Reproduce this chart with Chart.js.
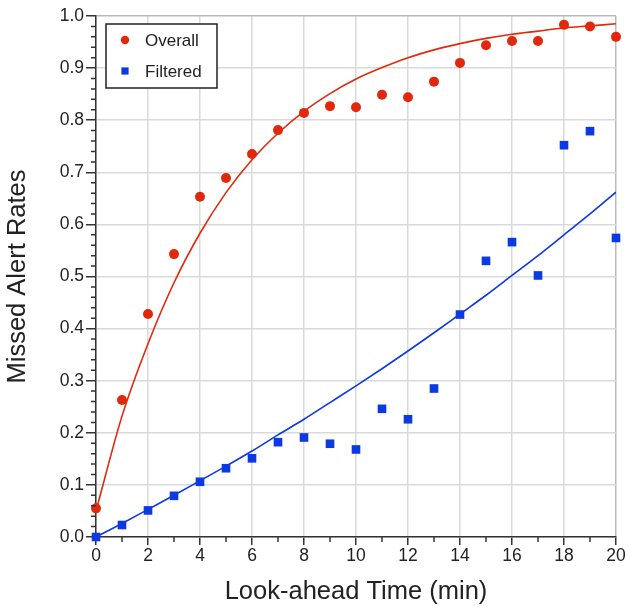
<!DOCTYPE html>
<html>
<head>
<meta charset="utf-8">
<script src="https://cdn.jsdelivr.net/npm/chart.js@4/dist/chart.umd.min.js"></script>
<style>
  html, body { margin: 0; padding: 0; background: #fff; }
  #wrap { width: 628px; height: 607px; }
</style>
</head>
<body>
<div id="wrap"><canvas id="c" width="628" height="607"></canvas></div>
<script>
// ---- data ----
const lookAhead = [0,1,2,3,4,5,6,7,8,9,10,11,12,13,14,15,16,17,18,19,20];
const overallRates = [0.055,0.263,0.428,0.543,0.653,0.689,0.735,0.781,0.814,0.827,0.825,0.849,0.844,0.874,0.910,0.944,0.952,0.952,0.983,0.980,0.960];
const filteredRates = [0.000,0.023,0.051,0.079,0.106,0.132,0.151,0.182,0.191,0.179,0.168,0.246,0.226,0.285,0.427,0.530,0.566,0.502,0.752,0.779,0.574];
const overallFit = [0.050,0.232,0.371,0.488,0.583,0.661,0.724,0.775,0.817,0.851,0.879,0.901,0.920,0.935,0.947,0.957,0.965,0.971,0.977,0.981,0.985];
const filteredFit = [0.000,0.026,0.053,0.080,0.108,0.136,0.165,0.196,0.226,0.258,0.290,0.323,0.357,0.392,0.428,0.464,0.502,0.540,0.580,0.620,0.662];
const seriesNames = ['Overall', 'Filtered'];
const xTitle = 'Look-ahead Time (min)';
const yTitle = 'Missed Alert Rates';

const RED = '#e2280c';
const BLUE = '#0b3ae2';
const FONT = "'Liberation Sans', Arial, Helvetica, sans-serif";
const pts = (ys) => lookAhead.map((x, i) => ({x: x, y: ys[i]}));

const extras = {
  id: 'extras',
  afterDatasetsDraw(chart) {
    const ctx = chart.ctx;
    const xs = chart.scales.x, ys = chart.scales.y;
    ctx.save();
    ctx.strokeStyle = '#333';
    ctx.lineWidth = 1.5;
    ctx.beginPath();
    for (let v = 1; v < 20; v += 2) {
      const px = xs.getPixelForValue(v);
      ctx.moveTo(px, xs.top);
      ctx.lineTo(px, xs.top + 5);
    }
    for (let k = 1; k < 50; k++) {
      if (k % 5 === 0) continue;
      const py = ys.getPixelForValue(k * 0.02);
      ctx.moveTo(ys.right, py);
      ctx.lineTo(ys.right - 5, py);
    }
    ctx.stroke();
    ctx.restore();
  },
  afterDraw(chart) {
    // legend (drawn from dataset labels / colours)
    const ctx = chart.ctx;
    const ca = chart.chartArea;
    const l = ca.left + 10, t = ca.top + 8, w = 111, h = 64;
    ctx.save();
    ctx.fillStyle = '#fff';
    ctx.fillRect(l, t, w, h);
    ctx.strokeStyle = '#222';
    ctx.lineWidth = 1.5;
    ctx.strokeRect(l, t, w, h);
    ctx.font = '17px ' + FONT;
    ctx.textBaseline = 'middle';
    ctx.textAlign = 'left';
    [0, 1].forEach((i) => {
      const ds = chart.data.datasets[i];
      const cy = t + 16 + i * 31;
      const cx = l + 19;
      ctx.fillStyle = ds.backgroundColor;
      if (ds.pointStyle === 'rect') {
        ctx.fillRect(cx - 3.6, cy - 3.6, 7.2, 7.2);
      } else {
        ctx.beginPath();
        ctx.arc(cx, cy, 4.2, 0, Math.PI * 2);
        ctx.fill();
      }
      ctx.fillStyle = '#222';
      ctx.fillText(ds.label, l + 39, cy + 1);
    });
    ctx.restore();
  }
};

new Chart(document.getElementById('c'), {
  type: 'scatter',
  data: {
    datasets: [
      { label: seriesNames[0], data: pts(overallRates), showLine: false,
        pointStyle: 'circle', pointRadius: 5, pointHoverRadius: 5,
        backgroundColor: RED, borderColor: RED, borderWidth: 0, clip: false },
      { label: seriesNames[1], data: pts(filteredRates), showLine: false,
        pointStyle: 'rect', pointRadius: 6.1, pointHoverRadius: 6.1,
        backgroundColor: BLUE, borderColor: BLUE, borderWidth: 0, clip: false },
      { label: 'fit1', data: pts(overallFit), showLine: true, pointRadius: 0,
        borderColor: RED, borderWidth: 1.6, cubicInterpolationMode: 'monotone', fill: false },
      { label: 'fit2', data: pts(filteredFit), showLine: true, pointRadius: 0,
        borderColor: BLUE, borderWidth: 1.6, cubicInterpolationMode: 'monotone', fill: false }
    ]
  },
  options: {
    responsive: false,
    animation: false,
    events: [],
    layout: { padding: { left: 0, top: 16, right: 12, bottom: 0 } },
    plugins: {
      tooltip: { enabled: false },
      legend: { display: false }
    },
    scales: {
      x: {
        type: 'linear', min: 0, max: 20,
        afterFit: (s) => { s.height = 70; },
        ticks: { stepSize: 2, color: '#222', padding: 1, maxRotation: 0,
                 font: { family: FONT, size: 17.5 } },
        grid: { color: (c) => c.tick && c.tick.value === 20 ? '#b9b9b9' : '#d9d9d9',
                lineWidth: 1.5, tickColor: '#333', tickLength: 8, tickWidth: 1.5 },
        border: { color: '#333', width: 1.5 },
        title: { display: true, text: xTitle, color: '#222',
                 font: { family: FONT, size: 25.5 }, padding: { top: 0, bottom: 0 } }
      },
      y: {
        type: 'linear', min: 0, max: 1,
        afterFit: (s) => { s.width = 96; },
        ticks: { stepSize: 0.1, color: '#222', padding: 2,
                 callback: (v) => v.toFixed(1),
                 font: { family: FONT, size: 17.5 } },
        grid: { color: (c) => c.tick && Math.abs(c.tick.value - 1) < 1e-9 ? '#b9b9b9' : '#d9d9d9',
                lineWidth: 1.5, tickColor: '#333', tickLength: 10, tickWidth: 1.5 },
        border: { color: '#333', width: 1.5 },
        title: { display: true, text: yTitle, color: '#222',
                 font: { family: FONT, size: 25.5 }, padding: { top: 3, bottom: 0 } }
      }
    }
  },
  plugins: [extras]
});
</script>
</body>
</html>
